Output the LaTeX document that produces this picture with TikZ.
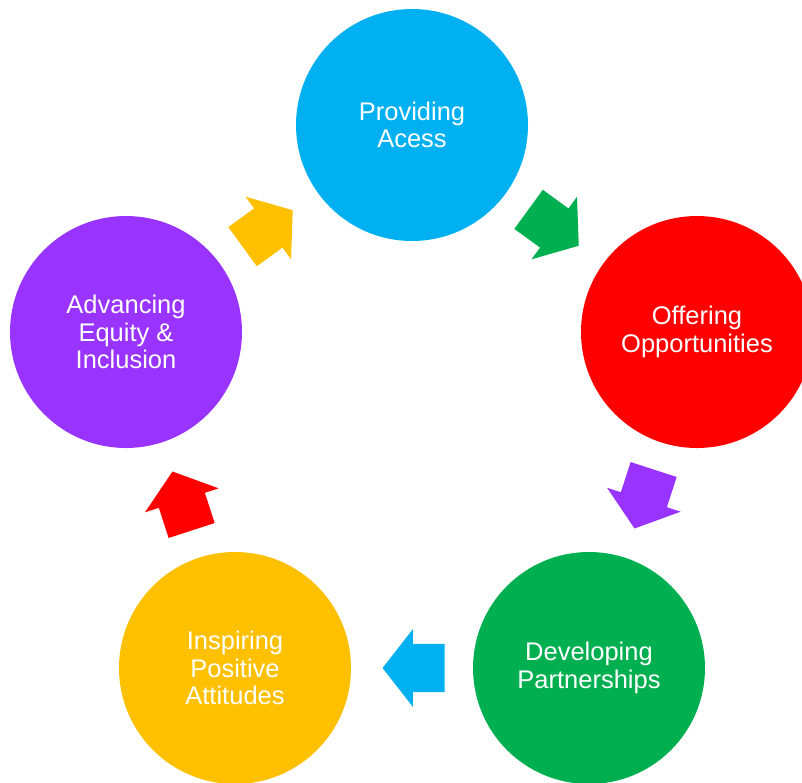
\documentclass[tikz,border=0pt]{standalone}
\usepackage{fontspec}
\setmainfont{Liberation Sans}
\usetikzlibrary{shapes.arrows}
\definecolor{cblue}{HTML}{00B0F0}
\definecolor{cred}{HTML}{FF0000}
\definecolor{cgreen}{HTML}{00B050}
\definecolor{cyellow}{HTML}{FFC000}
\definecolor{cpurple}{HTML}{9933FF}
\tikzset{
  stage/.style={circle,fill=#1,minimum size=232pt,inner sep=0pt,text=white,
    align=center,font=\fontsize{25.5}{27.5}\selectfont},
  flow/.style={single arrow,fill=#1,minimum height=62pt,inner sep=0pt,
    single arrow head extend=14.5pt,single arrow tip angle=104,
    single arrow head indent=0pt}
}
\begin{document}
\begin{tikzpicture}[x=1pt,y=-1pt]
\useasboundingbox (0,0) rectangle (802,782);
\clip (0,0) rectangle (802,782);
\path (412,125) node[stage=cblue](Access){Providing\\Acess}
  (697,332) node[stage=cred](Offering){Offering\\Opportunities}
  (589,668) node[stage=cgreen](Partners){Developing\\Partnerships}
  (235,668) node[stage=cyellow](Attitudes){Inspiring\\Positive\\Attitudes}
  (126,332) node[stage=cpurple](Equity){Advancing\\Equity \&\\Inclusion};

\path (546,222) node[flow=cgreen,rotate=-36](toOffering){\rule{0pt}{48pt}}
  (647,490) node[flow=cpurple,rotate=-108](toPartners){\rule{0pt}{48pt}}
  (423,668) node[flow=cblue,rotate=180](toAttitudes){\rule{0pt}{48pt}}
  (185,510) node[flow=cred,rotate=108](toEquity){\rule{0pt}{48pt}}
  (260,234) node[flow=cyellow,rotate=36](toAccess){\rule{0pt}{48pt}};
\end{tikzpicture}
\end{document}
